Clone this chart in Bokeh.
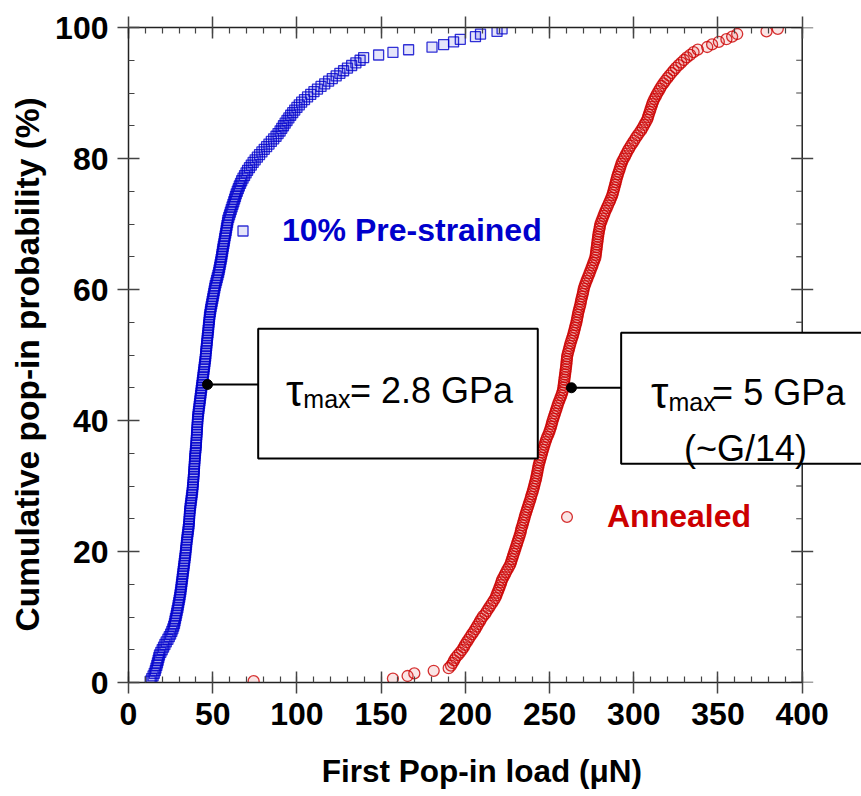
from bokeh.plotting import figure
from bokeh.models import (ColumnDataSource, SingleIntervalTicker, LinearAxis, Range1d,
                          BoxAnnotation, Label, Legend, LegendItem, Span, CustomLabelingPolicy)
from bokeh.embed import file_html
from bokeh.resources import INLINE

# ---------------- data (first pop-in loads, uN, sorted) ----------------
prestrained_load = [
    12.9, 13.8, 14.6, 15.3, 15.9,
    16.3, 16.8, 17.2, 17.6, 18.0, 18.4,
    19.2, 20.0, 20.8, 21.6, 22.4, 23.4,
    24.2, 25.0, 25.7, 26.3, 26.8, 27.3,
    27.6, 27.9, 28.3, 28.6, 28.9, 29.3,
    29.5, 29.8, 30.1, 30.4, 30.6, 30.9, 31.1,
    31.3, 31.5, 31.7, 31.9, 32.1, 32.3,
    32.5, 32.7, 32.9, 33.1, 33.3, 33.5, 33.7,
    33.9, 34.0, 34.2, 34.4, 34.5, 34.7,
    34.9, 35.1, 35.3, 35.5, 35.7, 35.9,
    36.0, 36.1, 36.2, 36.3, 36.4, 36.6,
    36.8, 37.0, 37.2, 37.4, 37.6, 37.8, 38.0,
    38.1, 38.3, 38.4, 38.5, 38.7, 38.8,
    38.9, 39.0, 39.1, 39.2, 39.3, 39.4, 39.5,
    39.7, 39.8, 40.0, 40.1, 40.2,
    40.3, 40.4, 40.5, 40.6, 40.7, 40.8, 40.9, 41.0, 41.1, 41.2,
    41.4, 41.6, 41.8, 42.0, 42.2, 42.4, 42.6, 42.8, 43.0, 43.2, 43.4, 43.6, 43.8,
    44.0, 44.2, 44.4, 44.6, 44.8, 45.0, 45.2, 45.4, 45.6, 45.8, 45.9, 46.0,
    46.2, 46.4, 46.5, 46.7, 46.8, 47.0, 47.2, 47.3, 47.5, 47.6, 47.8, 48.0, 48.1,
    48.3, 48.6, 48.8, 49.1, 49.4, 49.7, 50.0, 50.3, 50.6, 50.9, 51.2, 51.5,
    51.9, 52.3, 52.7, 53.1, 53.5, 53.8, 54.1,
    54.4, 54.7, 55.0, 55.3, 55.5, 55.8, 56.0,
    56.3, 56.6, 56.9, 57.1, 57.4, 57.7, 58.0, 58.2, 58.5, 58.8, 59.0,
    59.5, 60.0, 60.5, 61.0, 61.5, 62.0, 62.5, 63.0, 63.5,
    64.0, 64.6, 65.2, 65.8, 66.5, 67.2, 68.0, 68.9, 69.8, 70.7,
    71.8, 72.9, 74.0, 75.2, 76.5, 77.8,
    79.2, 80.6, 82.0, 83.4, 84.8, 86.2, 87.6,
    88.8, 90.0, 91.0, 92.0, 93.0, 94.1,
    95.2, 96.3, 97.5, 98.7, 100.0, 101.4,
    102.8, 104.5, 106.3, 108.2, 110.1, 112.2,
    114.3, 116.5, 118.8, 121.0, 123.3, 125.5, 127.7,
    130.0, 132.5, 135.0, 137.5, 139.6,
    148.5, 157.0, 166.3, 180.2, 187.1, 193.0, 197.0, 206.0, 209.0, 218.8, 221.8,
]

annealed_load = [
    74.3, 157.0, 165.7, 169.7, 181.2, 190.1,
    191.5, 192.5, 193.3, 194.2, 195.5, 196.8, 198.0, 199.0,
    199.8, 200.8, 201.8, 202.8, 203.8, 204.9, 205.9,
    206.8, 207.7, 208.6, 209.5, 210.5, 211.9,
    212.8, 213.8, 214.8, 215.8, 216.8, 217.8,
    218.4, 219.0, 219.6, 220.2, 220.8, 221.3, 221.8,
    222.6, 223.4, 224.2, 225.0, 225.9, 226.7,
    227.2, 227.7, 228.2, 228.7, 229.2, 229.7,
    230.2, 230.7, 231.2, 231.7, 232.2, 232.7, 233.0,
    233.4, 233.9, 234.3, 234.8, 235.2, 235.6,
    236.1, 236.6, 237.1, 237.6, 238.1, 238.6,
    239.0, 239.5, 240.0, 240.4, 240.8, 241.2, 241.6,
    242.0, 242.3, 242.6, 242.9, 243.2, 243.5,
    243.9, 244.3, 244.8, 245.2, 245.6, 246.1,
    246.5, 247.0, 247.5, 248.0, 248.6, 249.3,
    249.9, 250.4, 250.9, 251.3, 251.7, 252.2,
    252.7, 253.2, 253.7, 254.2, 254.7, 255.2, 255.8, 256.4, 257.0, 257.5, 258.0,
    258.2, 258.4, 258.6, 258.8, 259.0, 259.2, 259.4, 259.6, 259.8, 260.0, 260.1, 260.3, 260.4,
    260.8, 261.2, 261.6, 262.0, 262.4, 262.9, 263.4, 263.9, 264.3, 264.7, 265.1, 265.5, 265.9,
    266.2, 266.5, 266.8, 267.1, 267.5, 267.9, 268.3, 268.6, 268.9, 269.3, 269.7, 270.0, 270.3,
    270.8, 271.3, 271.9, 272.5, 273.1, 273.7, 274.3, 274.9, 275.5, 276.0, 276.6, 277.2,
    277.4, 277.6, 277.8, 278.0, 278.2, 278.4, 278.6, 278.8, 279.0, 279.3, 279.6, 279.9, 280.2,
    280.8, 281.4, 282.0, 282.6, 283.2, 283.9, 284.6, 285.3, 286.0, 286.6, 287.2, 287.7,
    288.1, 288.5, 288.9, 289.3, 289.7, 290.1, 290.6, 291.1, 291.6, 292.1, 292.6, 293.2, 294.0,
    294.8, 295.6, 296.4, 297.3, 298.2, 299.2, 300.2, 301.2, 302.2,
    303.3, 304.4, 305.3, 306.2, 307.0, 307.9,
    308.4, 308.9, 309.4, 309.9, 310.4, 310.9,
    311.5, 312.2, 313.0, 313.8, 314.7, 315.6,
    316.5, 317.6, 318.7, 319.9, 321.1, 322.4, 323.7,
    325.0, 326.6, 328.2, 329.8, 331.5, 333.5, 335.5, 338.0,
    343.6, 346.5, 350.5, 355.0, 358.4, 361.4, 378.8, 385.5,
]

series_names = ["10% Pre-strained", "Annealed"]
# points marking the quoted max shear stress on each curve
tau_load = [46.9, 263.0]
tau_prob = [45.5, 45.0]
tau_text = ["= 2.8 GPa", "= 5 GPa"]
x_axis_max = 400
y_axis_max = 100
x_ticks_interval = 50
y_ticks_interval = 20
y_minor_step = 5


def ecdf(loads):
    n = len(loads)
    return [100.0 * (i + 0.5) / n for i in range(n)]


src_pre = ColumnDataSource(dict(x=prestrained_load, y=ecdf(prestrained_load)))
src_ann = ColumnDataSource(dict(x=annealed_load, y=ecdf(annealed_load)))

FONT = "Liberation Sans"
NB = "\u00a0"
W, H = 861, 796
LEFT, TOP, BOTTOM = 128, 27, 114
X_VIEW_MAX = 435.2          # frame runs past 400 so the right-hand box can overflow
PX_PER_X = (W - LEFT) / X_VIEW_MAX

p = figure(width=W, height=H, x_range=Range1d(0, X_VIEW_MAX), y_range=Range1d(0, y_axis_max),
           x_axis_type=None, y_axis_type=None,
           output_backend="svg", toolbar_location=None,
           min_border_left=LEFT, min_border_right=0, min_border_top=TOP, min_border_bottom=BOTTOM)
p.outline_line_color = None
p.background_fill_color = "white"

AX_COL = "#222222"
TK_COL = "#444444"


def style_axis(ax, interval, minors, show_labels):
    ax.ticker = SingleIntervalTicker(interval=interval, num_minor_ticks=minors)
    ax.axis_line_color = AX_COL
    ax.axis_line_width = 1.5
    ax.major_tick_line_color = TK_COL
    ax.major_tick_line_width = 1.5
    ax.minor_tick_line_color = TK_COL
    ax.minor_tick_line_width = 1.2
    ax.major_tick_in = 11
    ax.major_tick_out = 11
    ax.minor_tick_in = 6
    ax.minor_tick_out = 0
    ax.major_label_text_font = FONT
    ax.major_label_text_font_style = "bold"
    ax.major_label_text_color = "black"
    if show_labels:
        ax.major_label_text_font_size = "32px"
        ax.major_label_standoff = 9
    else:
        ax.major_label_text_font_size = "1px"
        ax.major_label_standoff = 0
        ax.major_label_policy = CustomLabelingPolicy(
            code="for (const i of indices) indices.unset(i); return indices")
    ax.axis_label_text_font = FONT
    ax.axis_label_text_font_style = "bold"
    ax.axis_label_text_color = "black"


xb = LinearAxis(axis_label="First Pop-in load (\u03bcN)" + NB * 3, bounds=(0, x_axis_max))
style_axis(xb, x_ticks_interval, 5, True)
xb.axis_label_text_font_size = "31.5px"
xb.axis_label_standoff = 25
yl = LinearAxis(axis_label="Cumulative pop-in probability (%)" + NB * 2)
style_axis(yl, y_ticks_interval, 4, True)
yl.axis_label_text_font_size = "33.5px"
yl.axis_label_standoff = 6
xt = LinearAxis(bounds=(0, x_axis_max))
style_axis(xt, x_ticks_interval, 5, False)
p.add_layout(xb, "below")
p.add_layout(yl, "left")
p.add_layout(xt, "above")

# right-hand frame line at x = 400 with its ticks (drawn inside the wider frame)
p.add_layout(Span(location=x_axis_max, dimension="height", line_color=AX_COL,
                  line_width=1.5, level="underlay"))
y_major = list(range(0, y_axis_max + 1, y_ticks_interval))
y_minor = [v for v in range(0, y_axis_max + 1, y_minor_step) if v % y_ticks_interval]
maj = 11 / PX_PER_X
mnr = 6 / PX_PER_X
p.segment(x0=[x_axis_max - maj] * len(y_major), y0=y_major,
          x1=[x_axis_max + maj] * len(y_major), y1=y_major,
          line_color=TK_COL, line_width=1.5)
p.segment(x0=[x_axis_max - mnr] * len(y_minor), y0=y_minor,
          x1=[x_axis_max] * len(y_minor), y1=y_minor,
          line_color=TK_COL, line_width=1.2)

BLUE = "#0000CC"
RED = "#CC0000"

r_pre = p.scatter("x", "y", source=src_pre, marker="square", size=10,
                  line_color=BLUE, line_alpha=0.8, line_width=1.3,
                  fill_color=BLUE, fill_alpha=0.1)
r_ann = p.scatter("x", "y", source=src_ann, marker="circle", size=11,
                  line_color=RED, line_alpha=0.8, line_width=1.3,
                  fill_color=RED, fill_alpha=0.1)

# legends
leg1 = Legend(items=[LegendItem(label=series_names[0], renderers=[r_pre])],
              location=(102, 433), glyph_width=25, glyph_height=25, label_standoff=27,
              padding=0, margin=0, border_line_color=None, background_fill_alpha=0,
              label_text_font=FONT, label_text_font_style="bold",
              label_text_font_size="32px", label_text_color=BLUE)
leg2 = Legend(items=[LegendItem(label=series_names[1], renderers=[r_ann])],
              location=(425, 147), glyph_width=27, glyph_height=27, label_standoff=27,
              padding=0, margin=0, border_line_color=None, background_fill_alpha=0,
              label_text_font=FONT, label_text_font_style="bold",
              label_text_font_size="32px", label_text_color=RED)
p.add_layout(leg1)
p.add_layout(leg2)

# annotation boxes (positions in data units)
box_left = [77.0, 292.5]
box_right = [243.0, 437.0]
box_top = [54.0, 53.4]
box_bottom = [34.2, 33.4]

p.segment(x0=tau_load, y0=tau_prob, x1=box_left, y1=tau_prob,
          line_color="black", line_width=2)
p.scatter(x=tau_load, y=tau_prob, size=10, marker="circle", color="black")

for i in range(2):
    p.add_layout(BoxAnnotation(left=box_left[i], right=box_right[i], top=box_top[i],
                               bottom=box_bottom[i], fill_color="white", fill_alpha=1.0,
                               line_color="black", line_width=2, line_alpha=1.0))

tau_x = [103.8, 320.6]
max_x = [103.8, 320.6]
eq_x = [131.5, 346.5]
base_y = [44.6, 44.2]
sub_y = [43.3, 42.8]
for i in range(2):
    p.add_layout(Label(x=tau_x[i], y=base_y[i], text="\u03c4", text_align="right",
                       text_baseline="alphabetic", text_font=FONT, text_font_size="44px",
                       text_color="black"))
    p.add_layout(Label(x=max_x[i], y=sub_y[i], text="max", text_align="left",
                       text_baseline="alphabetic", text_font=FONT, text_font_size="25px",
                       text_color="black"))
    p.add_layout(Label(x=eq_x[i], y=base_y[i], text=tau_text[i], text_align="left",
                       text_baseline="alphabetic", text_font=FONT, text_font_size="36px",
                       text_color="black"))
p.add_layout(Label(x=366.3, y=35.8, text="(~G/14)", text_align="center",
                   text_baseline="alphabetic", text_font=FONT, text_font_size="36px",
                   text_color="black"))

open("out.html", "w").write(file_html(p, INLINE))
